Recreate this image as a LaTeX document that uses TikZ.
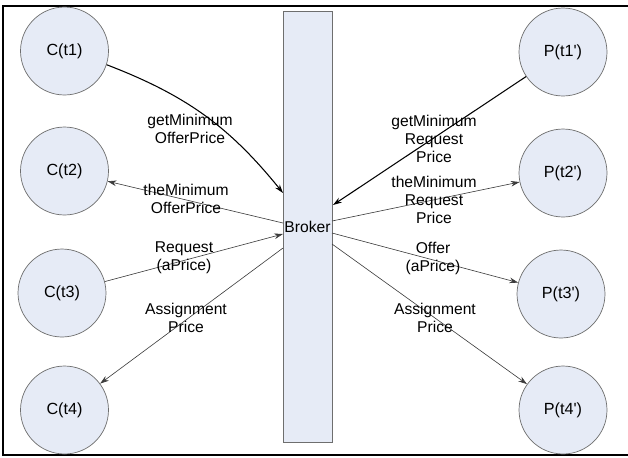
\documentclass[tikz,border=0pt]{standalone}
\usepackage{fontspec}
\setmainfont{Liberation Sans}
\usepackage{tikz}
\usetikzlibrary{arrows.meta}
\definecolor{partyfill}{RGB}{230,235,246}
\definecolor{partyline}{RGB}{110,110,110}
\definecolor{msgline}{RGB}{60,60,60}

\begin{document}
\begin{tikzpicture}[x=0.02cm,y=-0.02cm,>={Stealth[length=5pt,width=3.2pt]},
	party/.style={circle,draw=partyline,fill=partyfill,line width=0.4pt,minimum size=1.76cm,inner sep=0pt,font=\fontsize{9.2}{11}\selectfont},
	msg/.style={->,draw=msgline,line width=0.35pt},
	call/.style={->,draw=black,line width=0.6pt},
	lbl/.style={align=center,font=\fontsize{8.9}{10.2}\selectfont}]
		\useasboundingbox (0,0) rectangle (628,457);
		
		% Frame
		\draw[line width=1.1pt] (628,6) -- (3,6) -- (3,455) -- (628,455);
		
		% Broker column
		\node[draw=partyline,fill=partyfill,line width=0.4pt,minimum width=0.98cm,minimum height=8.62cm,inner sep=0pt,font=\fontsize{8.9}{10.2}\selectfont] (broker) at (307.5,226.5) {Broker};
		\coordinate (bl1) at (283,193);
		\coordinate (bl2) at (283,223);
		\coordinate (bl3) at (283,234);
		\coordinate (bl4) at (283,248);
		\coordinate (br1) at (333,205);
		\coordinate (br2) at (332,221);
		\coordinate (br3) at (332,233);
		\coordinate (br4) at (332,244);
		
		% Consumers
		\node[party] (c1) at (64.5,51) {C(t1)};
		\node[party] (c2) at (64.5,171) {C(t2)};
		\node[party] (c3) at (62,293) {C(t3)};
		\node[party] (c4) at (64.5,410) {C(t4)};
		
		% Producers
		\node[party] (p1) at (563,52) {P(t1\textquotesingle)};
		\node[party] (p2) at (563,173) {P(t2\textquotesingle)};
		\node[party] (p3) at (561,294) {P(t3\textquotesingle)};
		\node[party] (p4) at (563,410) {P(t4\textquotesingle)};
		
		% Consumer side messages
		\draw[call] (c1) to[bend left=15] (bl1);
		\draw[msg] (bl2) -- (c2);
		\draw[msg] (c3) -- (bl3);
		\draw[msg] (bl4) -- (c4);
		\node[lbl] (l1) at (190,129) {getMinimum\\OfferPrice};
		\node[lbl] (l2) at (186,199) {theMinimum\\OfferPrice};
		\node[lbl] (l3) at (184,258) {Request\\(aPrice)};
		\node[lbl] (l4) at (186,318) {Assignment\\Price};
		
		% Producer side messages
		\draw[call] (p1) -- (br1);
		\draw[msg] (br2) -- (p2);
		\draw[msg] (br3) -- (p3);
		\draw[msg] (br4) -- (p4);
		\node[lbl] (r1) at (434,139) {getMinimum\\Request\\Price};
		\node[lbl] (r2) at (434,200) {theMinimum\\Request\\Price};
		\node[lbl] (r3) at (433,258) {Offer\\(aPrice)};
		\node[lbl] (r4) at (435,318) {Assignment\\Price};
	\end{tikzpicture}
\end{document}
